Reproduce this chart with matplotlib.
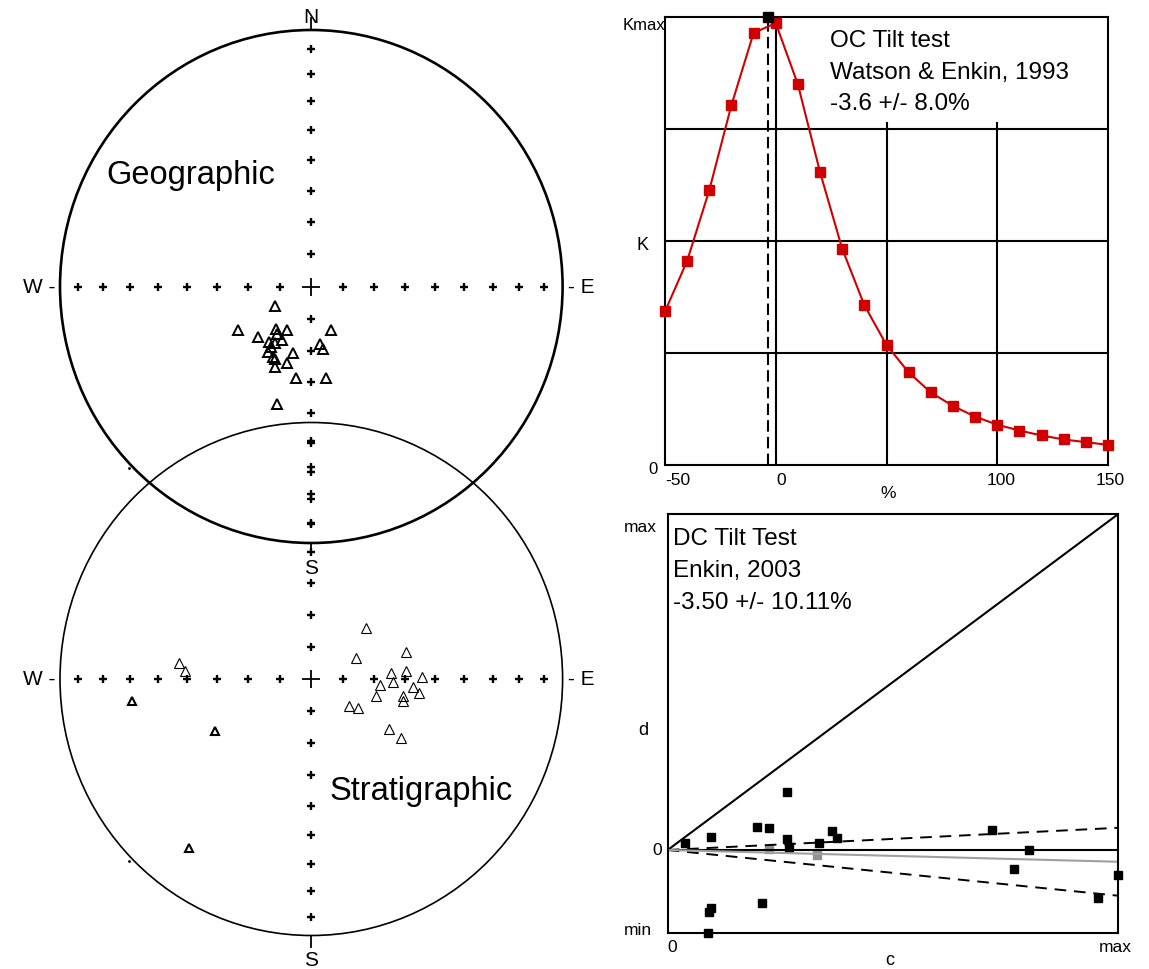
import numpy as np
import matplotlib
matplotlib.use('Agg')
import matplotlib.pyplot as plt
from matplotlib.patches import Ellipse, Rectangle

W, H = 1149, 970
plt.rcParams['font.family'] = ['Liberation Sans', 'DejaVu Sans']

# ---------------- data ----------------
# Geographic coordinates (declination, inclination), lower hemisphere
geo_dec = [242.8, 239.9, 220.3, 209.4, 155.5, 227.3, 216.2, 209.2, 217.9, 213.2, 214.3,
           214.3, 195.4, 171.2, 169.4, 209.1, 207.2, 198.2, 204.5, 189.8, 170.9, 196.5]
geo_inc = [77.0, 63.1, 72.7, 74.5, 75.2, 66.9, 71.7, 70.9, 68.0, 69.0, 67.1,
           65.4, 68.4, 71.9, 70.2, 64.7, 64.5, 64.9, 62.2, 60.8, 60.9, 51.3]
# Stratigraphic coordinates: main cluster
strat_dec = [47.6, 65.5, 74.2, 86.0, 85.4, 94.9, 92.3, 89.1, 94.6, 97.3, 104.3,
             100.5, 103.0, 125.1, 121.7, 122.2, 123.0, 276.6, 273.6]
strat_inc = [66.5, 74.5, 58.5, 64.5, 59.6, 68.1, 64.0, 54.3, 57.4, 55.1, 68.9,
             60.3, 59.8, 75.3, 72.7, 60.6, 55.8, 46.8, 49.3]
# Stratigraphic coordinates: scattered sites
strat_out_dec = [263.2, 241.9, 216.5]
strat_out_inc = [30.4, 55.0, 20.7]

grat_dec = [0, 90, 180, 270]
grat_inc = [10, 20, 30, 40, 50, 60, 70, 80]

# OC tilt test (Watson & Enkin, 1993)
oc_untilt = [-50, -40, -30, -20, -10, 0, 10, 20, 30, 40, 50, 60, 70, 80, 90,
             100, 110, 120, 130, 140, 150]
oc_k = [0.343, 0.456, 0.614, 0.804, 0.965, 0.987, 0.850, 0.654, 0.483, 0.357, 0.268,
        0.207, 0.162, 0.132, 0.108, 0.090, 0.077, 0.066, 0.057, 0.051, 0.045]
oc_best = -3.6
oc_kmax = 1.0
oc_xticks = [-50, 0, 100, 150]

# DC tilt test (Enkin, 2003)
dc_c = [0.0384, 0.0961, 0.2641, 0.1982, 0.2248, 0.2641, 0.2692, 0.3364, 0.3653,
        0.3764, 0.0954, 0.0923, 0.2086, 0.0888, 0.7197, 0.8012, 0.7679, 0.9549, 0.9987]
dc_d = [0.0214, 0.0384, 0.1723, 0.0670, 0.0640, 0.0313, 0.0086, 0.0214, 0.0580,
        0.0354, -0.1720, -0.1848, -0.1571, -0.2464, 0.0610, 0.0006, -0.0568, -0.1432, -0.0747]
dc_c_faint = [0.2248, 0.3307]
dc_d_faint = [0.0036, -0.0134]
dc_slope = -3.50
dc_err = 10.11

# ---------------- figure ----------------
fig = plt.figure(figsize=(W / 100, H / 100), dpi=100)
fig.patch.set_facecolor('white')


def ftext(x, y, s, **kw):
    return fig.text(x / W, 1 - y / H, s, **kw)


# ---------- stereonets ----------
cx_px, cy_up, cy_lo = 311.3, 287.5, 680.0
rx, ry = 251.3, 256.5
axs = fig.add_axes([0, 0, 620 / W, 1])
axs.set_xlim((0 - cx_px) / rx, (620 - cx_px) / rx)
axs.set_ylim((cy_up - H) / ry, cy_up / ry)
axs.axis('off')
y_lo = (cy_up - cy_lo) / ry


def ea(dec, inc, k=1.02):
    d = np.radians(np.asarray(dec, float))
    i = np.radians(np.asarray(inc, float))
    r = k * np.sqrt(2) * np.sin((np.pi / 2 - np.abs(i)) / 2)
    return r * np.sin(d), r * np.cos(d)


def stereonet(y0, lw, north_tick):
    axs.add_patch(Ellipse((0, y0), 2, 2, fill=False, lw=lw, ec='black', zorder=2))
    for d in grat_dec:
        gx, gy = ea(d, grat_inc)
        axs.plot(gx, gy + y0, ls='none', marker='+', ms=5.5, mew=1.7, color='black',
                 clip_on=False, zorder=3)
    axs.plot([0], [y0], marker='+', ms=13, mew=1.3, color='black', zorder=3)
    if north_tick:
        axs.plot([0, 0], [y0 + 1, y0 + 1.045], color='black', lw=1.3, clip_on=False)
    axs.plot([0, 0], [y0 - 1, y0 - 1.045], color='black', lw=1.3, clip_on=False)
    axs.text(-1.02, y0, 'W -', ha='right', va='center', fontsize=15,
             family=['Liberation Sans Narrow', 'Liberation Sans'])
    axs.text(1.02, y0, '- E', ha='left', va='center', fontsize=15,
             family=['Liberation Sans Narrow', 'Liberation Sans'])
    axs.text(0, y0 - 1.094, 'S', ha='center', va='center', fontsize=15,
             family=['Liberation Sans Narrow', 'Liberation Sans'])
    # small stray dots outside the primitive circle
    axs.plot([-0.7237], [y0 - 0.7237 * 0.98], marker='.', ms=2, color='black')


stereonet(y_lo, 1.2, False)
stereonet(0, 1.9, True)
axs.text(0, 1.052, 'N', ha='center', va='center', fontsize=15,
         family=['Liberation Sans Narrow', 'Liberation Sans'])

gx, gy = ea(geo_dec, geo_inc)
axs.plot(gx, gy, ls='none', marker='^', ms=6.5, mfc='none', mec='black', mew=1.4, zorder=4)
sx, sy = ea(strat_dec, strat_inc)
axs.plot(sx, sy + y_lo, ls='none', marker='^', ms=6.5, mfc='none', mec='black', mew=0.8, zorder=4)
ox, oy = ea(strat_out_dec, strat_out_inc)
axs.plot(ox, oy + y_lo, ls='none', marker='^', ms=6, mfc='none', mec='black', mew=1.5, zorder=4)

ftext(106, 184, 'Geographic', fontsize=23.5, va='baseline', ha='left')
ftext(330, 800, 'Stratigraphic', fontsize=23.5, va='baseline', ha='left')

# ---------- OC tilt test ----------
oc_l, oc_r, oc_t, oc_b = 665.0, 1108.0, 18.3, 466.0
ax1 = fig.add_axes([oc_l / W, 1 - oc_b / H, (oc_r - oc_l) / W, (oc_b - oc_t) / H])
ax1.set_xlim(oc_untilt[0], oc_untilt[-1])
ax1.set_ylim(0, oc_kmax)
for xv in [0, 50, 100]:
    ax1.axvline(xv, color='black', lw=1.5, zorder=1)
for yv in [0.25, 0.5, 0.75]:
    ax1.axhline(yv, color='black', lw=1.5, zorder=1)
ax1.add_patch(Rectangle((0.34, 0.766), 0.66, 0.234, transform=ax1.transAxes,
                        fc='white', ec='none', zorder=1.5))
ax1.plot([oc_best, oc_best], [0, oc_kmax], color='black', lw=1.5, dashes=(5.5, 2.5), zorder=2)
ax1.plot(oc_untilt, oc_k, color='#d10000', lw=1.5, marker='s', ms=7.2, mfc='#d10000',
         mec='#d10000', zorder=3, clip_on=False)
ax1.plot([oc_best], [oc_kmax], marker='s', ms=7.2, color='black', zorder=4, clip_on=False)
for s in ax1.spines.values():
    s.set_linewidth(1.5)
ax1.set_xticks([])
ax1.set_yticks([])

ftext(830, 46.7, 'OC Tilt test', fontsize=17.5, va='baseline')
ftext(830, 79, 'Watson & Enkin, 1993', fontsize=17.5, va='baseline')
ftext(830, 110.5, '-3.6 +/- 8.0%', fontsize=17.5, va='baseline')

ftext(623, 26, 'Kmax', fontsize=12, ha='left', va='center')
ftext(637, 246, 'K', fontsize=13, ha='left', va='center')
ftext(658, 470, '0', fontsize=12, ha='right', va='center')
xpix = {v: oc_l + (v - oc_untilt[0]) / (oc_untilt[-1] - oc_untilt[0]) * (oc_r - oc_l) for v in oc_xticks}
ftext(xpix[-50], 481, '-50', fontsize=12.5, ha='left', va='center')
ftext(xpix[0] + 1, 481, '0', fontsize=12.5, ha='left', va='center')
ftext(xpix[100] + 4, 481, '100', fontsize=12.5, ha='center', va='center')
ftext(xpix[150] + 2, 481, '150', fontsize=12.5, ha='center', va='center')
ftext(888, 494, '%', fontsize=12.5, ha='center', va='center')

# ---------- DC tilt test ----------
dc_l, dc_r, dc_t, dc_b = 667.7, 1118.3, 515.0, 934.0
ax2 = fig.add_axes([dc_l / W, 1 - dc_b / H, (dc_r - dc_l) / W, (dc_b - dc_t) / H])
ax2.set_xlim(0, 1)
ax2.set_ylim(-83 / 336, 1)
cl = np.array([0.0, 1.0])
ax2.plot(cl, cl, color='black', lw=1.5, zorder=2)
ax2.axhline(0, color='black', lw=1.5, zorder=2)
ax2.plot(cl, cl * (dc_slope + dc_err) / 100, color='black', lw=1.4, dashes=(6, 4), zorder=2)
ax2.plot(cl, cl * (dc_slope - dc_err) / 100, color='black', lw=1.4, dashes=(6, 4), zorder=2)
ax2.plot(cl, cl * dc_slope / 100, color='#a0a0a0', lw=1.5, zorder=2)
ax2.plot(dc_c, dc_d, ls='none', marker='s', ms=6, color='black', zorder=3, clip_on=False)
ax2.plot(dc_c_faint, dc_d_faint, ls='none', marker='s', ms=6, color='#909090', zorder=1.5,
         clip_on=False)
for s in ax2.spines.values():
    s.set_linewidth(1.5)
ax2.set_xticks([])
ax2.set_yticks([])

ftext(673, 545, 'DC Tilt Test', fontsize=17.5, va='baseline')
ftext(673, 577.3, 'Enkin, 2003', fontsize=17.5, va='baseline')
ftext(673, 609.3, '-3.50 +/- 10.11%', fontsize=17.5, va='baseline')

ftext(624, 528, 'max', fontsize=12.5, ha='left', va='center')
ftext(662, 851, '0', fontsize=12.5, ha='right', va='center')
ftext(624, 931, 'min', fontsize=12.5, ha='left', va='center')
ftext(643, 731, 'd', fontsize=13, ha='center', va='center')
ftext(667, 948, '0', fontsize=12.5, ha='left', va='center')
ftext(1115, 948, 'max', fontsize=12.5, ha='center', va='center')
ftext(890, 961, 'c', fontsize=13, ha='center', va='center')

fig.savefig('out.png', dpi=100, facecolor='white')
